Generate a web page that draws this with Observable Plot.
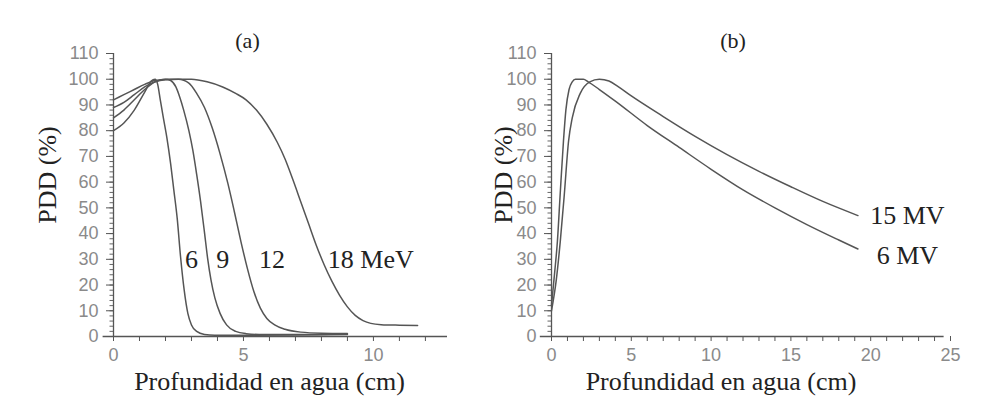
<!DOCTYPE html>
<html><head><meta charset="utf-8">
<script src="https://cdn.jsdelivr.net/npm/d3@7"></script>
<script src="https://cdn.jsdelivr.net/npm/@observablehq/plot@0.6"></script>
<style>
body{margin:0;background:#fff}
#wrap{display:flex;width:993px;height:396px;background:#fff}
svg{overflow:visible}
</style>
</head><body><div id="wrap"></div>
<script>
// Panel (a): electron beams, [depth cm, PDD %]
const e6 = [[0,80],[0.4,83],[0.8,88],[1.2,95],[1.45,99.3],[1.6,100],[1.7,98],[1.8,92],[1.9,86],[2.05,77.5],[2.2,67],[2.32,57],[2.45,46],[2.58,31],[2.72,18],[2.86,9],[3.0,4.5],[3.2,2],[3.5,0.8],[3.9,0.5],[5,0.5],[7,0.6],[9,0.8]];
const e9 = [[0,85],[0.4,88],[0.8,92],[1.2,96],[1.6,99],[2.0,100],[2.2,99.5],[2.4,97],[2.55,93],[2.7,88],[2.9,80],[3.05,72.5],[3.2,63],[3.35,52.5],[3.5,40.5],[3.62,30.5],[3.75,22],[3.9,15],[4.1,9],[4.35,4.5],[4.7,2],[5.1,1.1],[5.6,0.8],[7,0.8],[9,1]];
const e12 = [[0,89],[0.4,91],[0.8,94],[1.2,97],[1.6,99],[2.0,99.8],[2.5,100],[2.9,98.5],[3.2,94.5],[3.5,89],[3.8,81],[4.1,71],[4.4,59.5],[4.65,48.5],[4.9,37],[5.15,26.5],[5.4,17.5],[5.65,11],[5.9,7],[6.2,4.5],[6.6,2.8],[7.2,1.7],[8,1.3],[9,1.2]];
const e18 = [[0,92],[0.4,94],[0.8,96],[1.2,98],[1.6,99.5],[2.2,100],[3.0,100],[3.6,99],[4.2,97],[4.7,94.5],[5.1,92],[5.5,88],[5.9,82.5],[6.3,75.5],[6.6,69],[6.9,61],[7.2,52.5],[7.5,44],[7.8,35.5],[8.1,28],[8.4,21.5],[8.7,16],[9.0,11.5],[9.3,8.2],[9.6,6.2],[9.9,5.1],[10.3,4.6],[11,4.4],[11.7,4.3]];
const labelsA = ["6", "9", "12", "18 MeV"];
const labelAx = [3.0, 4.2, 6.1, 9.9];
const labelAy = [30, 30, 30, 30];

// Panel (b): photon beams
const mv6 = [[0,12],[0.2,25],[0.37,37],[0.55,56],[0.75,76],[0.9,88],[1.1,96],[1.3,99],[1.5,100],[2.0,100],[2.3,99],[3,96],[4,91.5],[6,82],[8,73.5],[10,65],[12,57],[14,50],[16,43.5],[18,37.5],[19.2,34]];
const mv15 = [[0,10],[0.3,22],[0.55,37],[0.8,55],[1.07,76],[1.3,85],[1.8,94.5],[2.4,99],[3.0,100],[3.6,99.3],[4.2,97],[5,93.5],[7,85.5],[9,77.8],[11,70.7],[13,64.2],[15,58.2],[17,52.5],[19.2,47]];
const labelsB = ["15 MV", "6 MV"];
const labelBx = [22.3, 22.3];
const labelBy = [47, 31.5];

const yMajor = d3.range(0, 111, 10);
const yMinor = d3.range(0, 111, 2);
const xTitle = "Profundidad en agua (cm)";
const yTitle = "PDD (%)";

const serif = "'Liberation Serif', 'DejaVu Serif', serif";
const lineStyle = {x: d => d[0], y: d => d[1], stroke: "#555", strokeWidth: 1.5, curve: "monotone-x"};

function panel({width, marginLeft, marginRight, xmax, xTicksMax, axisFrom, axisTo, series, labels, lx, ly, title, titleDx, yLabDx, xLabDx}) {
  return Plot.plot({
    width, height: 396, marginLeft, marginRight, marginTop: 53, marginBottom: 60,
    x: {domain: [0, xmax]},
    y: {domain: [0, 110]},
    style: {fontFamily: "'Liberation Sans', Arial, sans-serif", background: "white", overflow: "visible"},
    marks: [
      Plot.axisY(yMinor, {tickSize: 3.5, tickFormat: () => "", label: null, stroke: "#666"}),
      Plot.axisY(yMajor, {tickSize: 7, tickPadding: 8, fontSize: 18, fill: "#8a8a8a", stroke: "#555", label: null}),
      Plot.axisX(d3.range(0, xTicksMax + 1, 1), {tickSize: 5, tickPadding: 7, fontSize: 18, fill: "#8a8a8a", stroke: "#555", label: null, tickFormat: d => d % 5 === 0 ? String(d) : ""}),
      Plot.ruleY([0], {x1: axisFrom, x2: axisTo, stroke: "#555", strokeWidth: 1.3}),
      Plot.ruleX([0], {y1: 0, y2: 110, stroke: "#555", strokeWidth: 1.3}),
      ...series.map(s => Plot.line(s, lineStyle)),
      Plot.text(labels, {x: (d, i) => lx[i], y: (d, i) => ly[i], text: d => d, fontFamily: serif, fontSize: 26, fill: "#222"}),
      Plot.text([title], {text: d => d, frameAnchor: "top", lineAnchor: "middle", dx: titleDx, dy: -13, fontFamily: serif, fontSize: 22, fill: "#222"}),
      Plot.text([yTitle], {text: d => d, frameAnchor: "left", textAnchor: "middle", lineAnchor: "middle", rotate: -90, dx: yLabDx, dy: -20, fontFamily: serif, fontSize: 26, fill: "#222"}),
      Plot.text([xTitle], {text: d => d, frameAnchor: "bottom", lineAnchor: "middle", dx: xLabDx, dy: 45, fontFamily: serif, fontSize: 26, fill: "#222"})
    ]
  });
}

const wrap = document.getElementById("wrap");
wrap.append(panel({
  width: 490, marginLeft: 113, marginRight: 43, xmax: 12.85, xTicksMax: 12,
  axisFrom: -0.4, axisTo: 12.85,
  series: [e6, e9, e12, e18], labels: labelsA, lx: labelAx, ly: labelAy,
  title: "(a)", titleDx: -33, yLabDx: -66, xLabDx: -11
}));
wrap.append(panel({
  width: 503, marginLeft: 61, marginRight: 43, xmax: 25, xTicksMax: 25,
  axisFrom: -0.7, axisTo: 24.6,
  series: [mv6, mv15], labels: labelsB, lx: labelBx, ly: labelBy,
  title: "(b)", titleDx: -18, yLabDx: -48, xLabDx: -30
}));
</script>
</body></html>
